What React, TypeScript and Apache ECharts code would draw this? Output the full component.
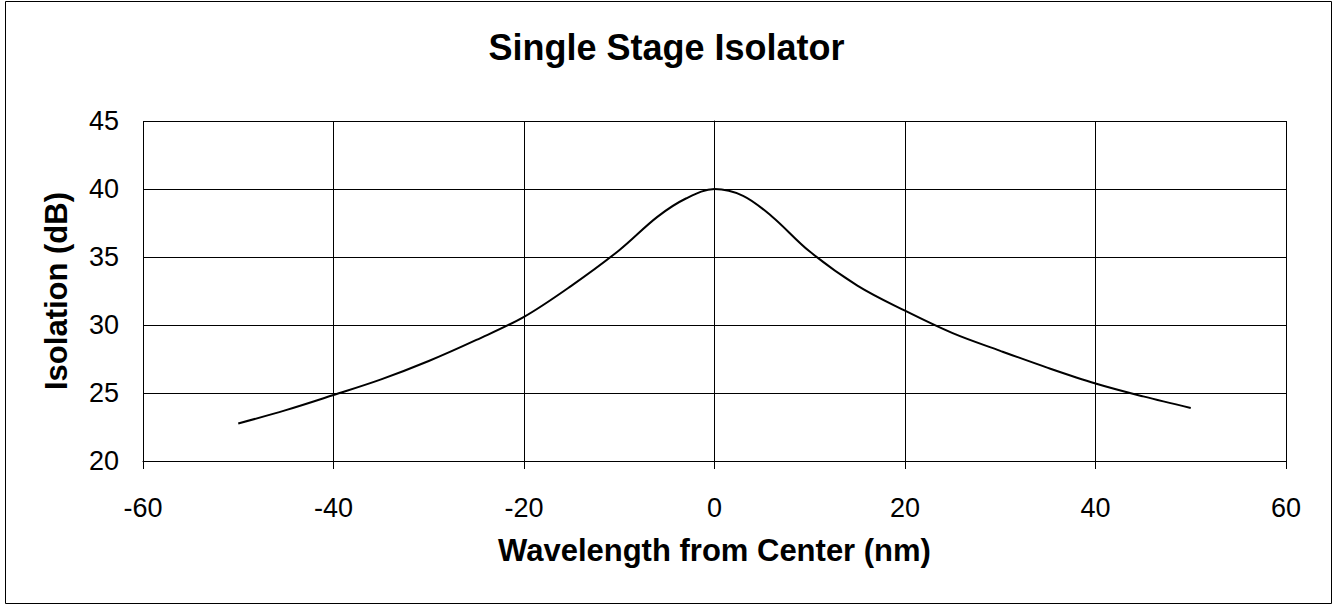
import React, { useEffect, useRef } from "react";
import * as echarts from "echarts";

const title = "Single Stage Isolator";
const xName = "Wavelength from Center (nm)";
const yName = "Isolation (dB)";

const wavelength = [-50, -45, -40, -35, -30, -25, -20, -15, -10, -6, -3, 0, 3, 6, 10, 15, 20, 25, 30, 35, 40, 45, 50];
const isolation = [22.76, 23.74, 24.85, 26.0, 27.35, 28.9, 30.6, 32.9, 35.5, 37.95, 39.3, 40, 39.5, 38.0, 35.4, 32.9, 31.05, 29.4, 28.1, 26.85, 25.7, 24.75, 23.9];

export default function App() {
  const ref = useRef<HTMLDivElement>(null);
  useEffect(() => {
    document.body.style.margin = "0";
    const chart = echarts.init(ref.current!, null, { renderer: "svg" });
    const font = "'Liberation Sans', Arial, sans-serif";
    chart.setOption({
      animation: false,
      backgroundColor: "#fff",
      title: {
        text: title,
        left: "center",
        top: 24,
        textStyle: { fontFamily: font, fontSize: 36, fontWeight: "bold", color: "#000" },
      },
      grid: { left: 143, top: 121, right: 47, bottom: 145, containLabel: false },
      xAxis: {
        type: "value",
        min: -60,
        max: 60,
        interval: 20,
        name: xName,
        nameLocation: "middle",
        nameGap: 74,
        nameTextStyle: { fontFamily: font, fontSize: 31, fontWeight: "bold", color: "#000" },
        axisLine: { show: true, onZero: false, lineStyle: { color: "#000", width: 1 } },
        axisTick: { show: true, length: 8, lineStyle: { color: "#000" } },
        axisLabel: { fontFamily: font, fontSize: 27, color: "#000", margin: 33 },
        splitLine: { show: true, lineStyle: { color: "#000", width: 1 } },
      },
      yAxis: {
        type: "value",
        min: 20,
        max: 45,
        interval: 5,
        name: yName,
        nameLocation: "middle",
        nameGap: 71,
        nameTextStyle: { fontFamily: font, fontSize: 31, fontWeight: "bold", color: "#000" },
        axisLine: { show: true, lineStyle: { color: "#000", width: 1 } },
        axisTick: { show: true, length: 9, lineStyle: { color: "#000" } },
        axisLabel: { fontFamily: font, fontSize: 27, color: "#000", margin: 24 },
        splitLine: { show: true, lineStyle: { color: "#000", width: 1 } },
      },
      graphic: [
        {
          type: "rect",
          shape: { x: 5.5, y: 1.5, width: 1326, height: 602 },
          style: { fill: "none", stroke: "#000", lineWidth: 1 },
          silent: true,
        },
      ],
      series: [
        {
          type: "line",
          data: wavelength.map((w, i) => [w, isolation[i]]),
          smooth: 0.35,
          showSymbol: false,
          lineStyle: { color: "#000", width: 2 },
        },
      ],
    });
    return () => chart.dispose();
  }, []);
  return <div ref={ref} style={{ width: 1333, height: 606 }} />;
}
